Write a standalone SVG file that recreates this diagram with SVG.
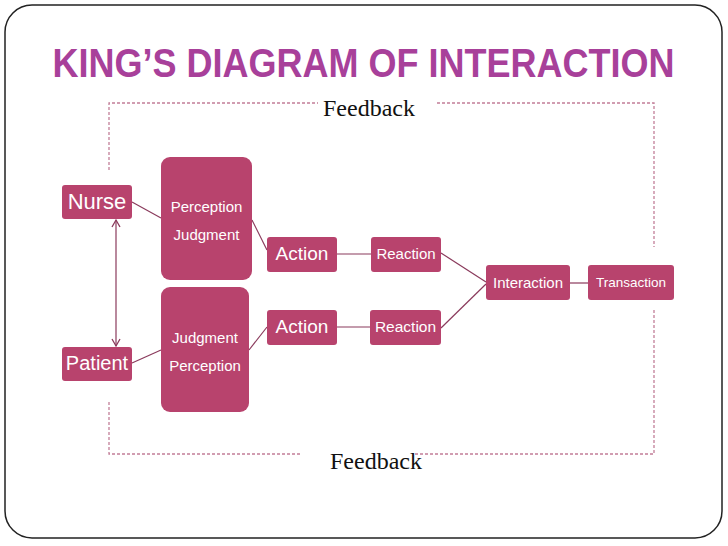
<svg xmlns="http://www.w3.org/2000/svg" width="728" height="546" viewBox="0 0 728 546">
<defs>
<style>
.box{fill:#b8436d;}
.lbl{fill:#ffffff;font-family:"Liberation Sans",Arial,sans-serif;text-anchor:middle;}
.conn{stroke:#8a3a5c;stroke-width:1.2;fill:none;}
.fb{stroke:#c27e98;stroke-width:1.3;stroke-dasharray:3 2;fill:none;}
.fbt{font-family:"Liberation Serif","Times New Roman",serif;font-size:24px;fill:#111;text-anchor:middle;}
</style>
<marker id="open" markerWidth="10" markerHeight="10" refX="8" refY="5" orient="auto-start-reverse" markerUnits="userSpaceOnUse">
<path d="M1,1 L8,5 L1,9" fill="none" stroke="#8a3a5c" stroke-width="1.3"/>
</marker>
</defs>
<rect x="0" y="0" width="728" height="546" fill="#ffffff"/>
<rect x="5" y="5" width="717" height="533" rx="27" ry="27" fill="#ffffff" stroke="#222" stroke-width="1.5"/>
<text transform="translate(363.5,77) scale(1,1.14)" x="0" y="0" font-family="'Liberation Sans',Arial,sans-serif" font-weight="bold" font-size="36" fill="#a8409a" text-anchor="middle">KING’S DIAGRAM OF INTERACTION</text>

<g id="feedback">
<path class="fb" d="M109,170 V103 H318"/>
<path class="fb" d="M437,103 H654 V247"/>
<path class="fb" d="M654,310 V454 H413"/>
<path class="fb" d="M300,454 H109 V400"/>
<text class="fbt" x="369" y="116">Feedback</text>
<text class="fbt" x="376" y="469">Feedback</text>
</g>

<g id="connectors">
<line class="conn" x1="132" y1="202" x2="161" y2="218"/>
<line class="conn" x1="132" y1="363" x2="161" y2="350"/>
<line class="conn" x1="116" y1="220" x2="116" y2="346" marker-start="url(#open)" marker-end="url(#open)"/>
<line class="conn" x1="252" y1="220" x2="267" y2="250"/>
<line class="conn" x1="249" y1="350" x2="267" y2="327"/>
<line class="conn" x1="337" y1="254" x2="371" y2="254"/>
<line class="conn" x1="337" y1="327" x2="370" y2="327"/>
<line class="conn" x1="441" y1="253" x2="486" y2="282"/>
<line class="conn" x1="441" y1="328" x2="486" y2="284"/>
<line class="conn" x1="570" y1="283" x2="588" y2="283"/>
</g>

<g id="nurse">
<rect class="box" x="62" y="185" width="70" height="34" rx="3"/>
<text class="lbl" x="97" y="209" font-size="22">Nurse</text>
</g>
<g id="patient">
<rect class="box" x="62" y="347" width="70" height="34" rx="3"/>
<text class="lbl" x="97" y="370" font-size="20">Patient</text>
</g>
<g id="perception-judgment">
<rect class="box" x="161" y="157" width="91" height="123" rx="9"/>
<text class="lbl" x="206.5" y="212" font-size="15">Perception</text>
<text class="lbl" x="206.5" y="240" font-size="15">Judgment</text>
</g>
<g id="judgment-perception">
<rect class="box" x="161" y="287" width="88" height="125" rx="9"/>
<text class="lbl" x="205" y="343" font-size="15">Judgment</text>
<text class="lbl" x="205" y="371" font-size="15">Perception</text>
</g>
<g id="action1">
<rect class="box" x="267" y="237" width="70" height="35" rx="3"/>
<text class="lbl" x="302" y="260" font-size="19">Action</text>
</g>
<g id="action2">
<rect class="box" x="267" y="310" width="70" height="35" rx="3"/>
<text class="lbl" x="302" y="333" font-size="19">Action</text>
</g>
<g id="reaction1">
<rect class="box" x="371" y="237" width="70" height="35" rx="3"/>
<text class="lbl" x="406" y="259" font-size="15">Reaction</text>
</g>
<g id="reaction2">
<rect class="box" x="370" y="310" width="71" height="35" rx="3"/>
<text class="lbl" x="405.5" y="332" font-size="15.5">Reaction</text>
</g>
<g id="interaction">
<rect class="box" x="486" y="265" width="84" height="35" rx="3"/>
<text class="lbl" x="528" y="288" font-size="15">Interaction</text>
</g>
<g id="transaction">
<rect class="box" x="588" y="265" width="86" height="35" rx="3"/>
<text class="lbl" x="631" y="287" font-size="13.5">Transaction</text>
</g>
</svg>
